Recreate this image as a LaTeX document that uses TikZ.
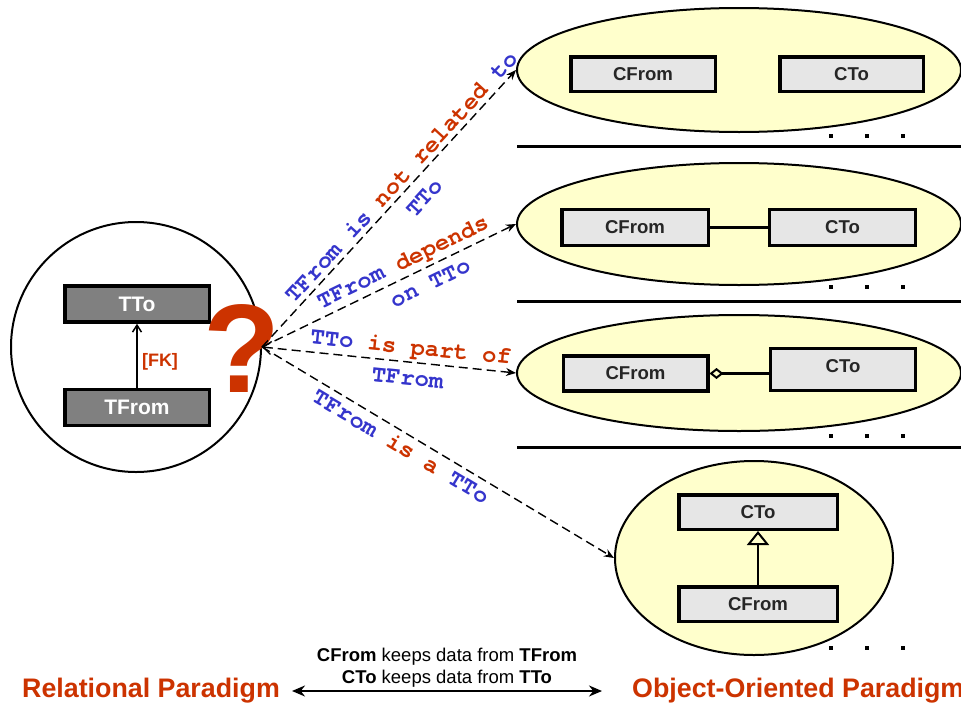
\documentclass[tikz,border=0pt]{standalone}
\usepackage{fontspec}
\setmainfont{Liberation Sans}
\newfontfamily\lblfont{TeX Gyre Cursor}
\usetikzlibrary{arrows.meta,shapes.geometric}
\definecolor{ored}{HTML}{CC3300}
\definecolor{oblue}{HTML}{3535CC}
\definecolor{yel}{HTML}{FFFFCC}
\definecolor{lgray}{HTML}{E6E6E6}
\definecolor{dgray}{HTML}{808080}
\tikzset{
  oval/.style={ellipse, draw=black, line width=2pt, fill=yel, inner sep=0pt},
  lbox/.style={draw=black, line width=3.5pt, fill=lgray, inner sep=0pt,
    font=\fontsize{18.6}{20}\selectfont\bfseries, text=black!85},
  dbox/.style={draw=black, line width=3.5pt, fill=dgray, inner sep=0pt,
    minimum width=144.5pt, minimum height=36pt,
    font=\fontsize{21}{23}\selectfont\bfseries, text=white},
  dashline/.style={dashed, dash pattern=on 9pt off 5pt, line width=1.4pt,
    -{Stealth[length=10pt,width=8pt]}},
  lbl/.style={font=\lblfont\fontsize{24}{31}\selectfont\bfseries, align=center,
    inner sep=1pt, text=oblue},
  sepline/.style={line width=3pt},
  bigred/.style={font=\fontsize{26.8}{30}\selectfont\bfseries, text=ored, inner sep=0pt},
}
\newcommand{\rd}[1]{\textcolor{ored}{#1}}
\begin{document}
\begin{tikzpicture}[x=1pt,y=-1pt]
\useasboundingbox (0,0) rectangle (961,707);
\clip (0,0) rectangle (961,707);

% right-hand ellipses
\node[oval, minimum width=444pt, minimum height=124pt] (E1) at (739,70) {};
\node[oval, minimum width=444pt, minimum height=122pt] (E2) at (739,224) {};
\node[oval, minimum width=444pt, minimum height=116pt] (E3) at (739,373) {};
\node[oval, minimum width=278pt, minimum height=194pt] (E4) at (754,558) {};

% separators and dots
\draw[sepline] (517,146) -- (961,146);
\draw[sepline] (517,301) -- (961,301);
\draw[sepline] (517,447) -- (961,447);
\foreach \yy in {136,287,436,648}
  \foreach \xx in {831,867,903}
    \fill (\xx-2,\yy-2) rectangle ++(4,4);

% boxes in ellipse 1
\node[lbox, minimum width=144.5pt, minimum height=34.5pt] (A1) at (643,74) {CFrom};
\node[lbox, minimum width=143.5pt, minimum height=34.5pt] (B1) at (851.5,74) {CTo};
% ellipse 2
\node[lbox, minimum width=146.5pt, minimum height=36pt] (A2) at (635,227.5) {CFrom};
\node[lbox, minimum width=146pt, minimum height=36pt] (B2) at (842.5,227.5) {CTo};
\draw[line width=2.5pt] (A2.east) -- (B2.west);
% ellipse 3
\node[lbox, minimum width=144.5pt, minimum height=35pt] (A3) at (635.5,373.5) {CFrom};
\node[lbox, minimum width=145pt, minimum height=42pt, text depth=6pt] (B3) at (843,369.5) {CTo};
\draw[line width=2.5pt, {Diamond[open,length=14pt,width=11pt,line width=2pt]}-] (A3.east) -- (B3.west |- A3.east);
% ellipse 4
\node[lbox, minimum width=158.5pt, minimum height=34.5pt] (B4) at (758,512) {CTo};
\node[lbox, minimum width=158.5pt, minimum height=34.5pt] (A4) at (758,604) {CFrom};
\draw[line width=2.5pt, -{Triangle[open,length=14pt,width=22pt,line width=2pt]}] (A4.north) -- (B4.south);

% left circle (relational side)
\node[circle, draw=black, line width=2pt, minimum size=250pt, inner sep=0pt] (rel) at (136,347) {};
\node[dbox] (TTo) at (137,304) {TTo};
\node[dbox] (TFrom) at (137,407.5) {TFrom};
\draw[line width=1.5pt, -{Straight Barb[length=7pt,width=9pt]}] (TFrom.north) -- (TTo.south);
\node[text=ored, font=\fontsize{18}{20}\selectfont\bfseries, inner sep=0pt] (fk) at (160,362) {[FK]};
\node[text=ored, font=\fontsize{126}{126}\selectfont\bfseries, inner sep=0pt] (qm) at (242,349) {?};

% dashed connectors with labels
\draw[dashline] (rel.east) -- node[lbl, sloped, pos=0.585, yshift=-3pt]
  {TFrom is \rd{not related} to\\TTo} (E1.west);
\draw[dashline] (rel.east) -- node[lbl, sloped, pos=0.58]
  {TFrom \rd{depends}\\\hspace*{1.3em}on TTo} (E2.west);
\draw[dashline, {Straight Barb[length=8pt,width=13pt]}-{Stealth[length=10pt,width=8pt]}] (rel.east) -- node[lbl, sloped, pos=0.58]
  {TTo \rd{is part of}\\TFrom} (E3.west);
\draw[dashline] (rel.east) -- node[lbl, sloped, pos=0.415, below=4pt]
  {TFrom \rd{is a} TTo} (E4.west);

% bottom captions
\node[bigred, anchor=base west] (rp) at (22,697) {Relational Paradigm};
\node[bigred, anchor=base west] (op) at (632,697) {Object-Oriented Paradigm};
\coordinate (ra) at (292,691);
\coordinate (rb) at (602,691);
\draw[line width=2pt, {Stealth[length=13pt,width=11pt]}-{Stealth[length=13pt,width=11pt]}] (ra) -- (rb);
\node[align=center, font=\fontsize{18.5}{22}\selectfont, inner sep=0pt] (keep) at (447,667.5)
  {\textbf{CFrom} keeps data from \textbf{TFrom}\\\textbf{CTo} keeps data from \textbf{TTo}};
\end{tikzpicture}
\end{document}
